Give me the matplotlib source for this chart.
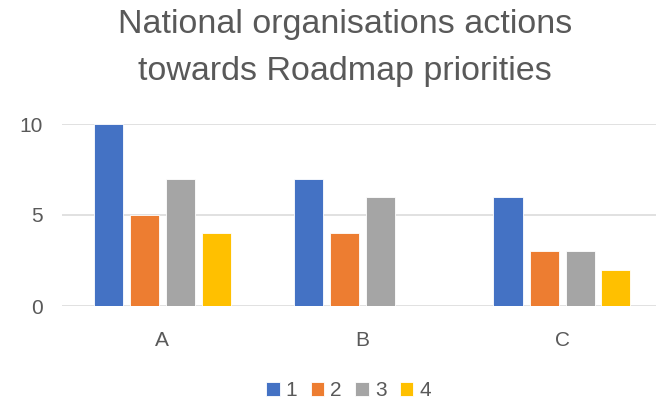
import matplotlib.pyplot as plt
import numpy as np

categories = ['A', 'B', 'C']
series_names = ['1', '2', '3', '4']
s1 = [10, 7, 6]
s2 = [5, 4, 3]
s3 = [7, 6, 3]
s4 = [4, 0, 2]
colors = ['#4472C4', '#ED7D31', '#A5A5A5', '#FFC000']

plt.rcParams['font.family'] = ['Liberation Sans', 'DejaVu Sans']
txt = '#595959'

fig = plt.figure(figsize=(6.56, 4.03), dpi=100)
ax = fig.add_axes([62 / 656, 1 - 306 / 403, 594 / 656, (306 - 124) / 403])

x = np.arange(len(categories))
offsets = [-0.27, -0.09, 0.09, 0.27]
for vals, off, c, name in zip([s1, s2, s3, s4], offsets, colors, series_names):
    ax.bar(x + off, vals, width=0.145, color=c, edgecolor='white', linewidth=0.6,
           label=name, zorder=3)

ax.set_xlim(-0.5, 2.47)
ax.set_ylim(0, 10)
ax.set_yticks([0, 5, 10])
ax.set_xticks(x)
ax.set_xticklabels(categories)
ax.yaxis.grid(True, color='#D9D9D9', linewidth=1.1, zorder=0)
ax.tick_params(length=0, colors=txt, labelsize=15)
ax.tick_params(axis='x', pad=18)
ax.tick_params(axis='y', pad=14)
for s in ax.spines.values():
    s.set_visible(False)

# title is centred on the (wider) chart area, a bit right of the image centre
fig.text(345 / 656, 1 - 33 / 403, 'National organisations actions', ha='center',
         va='baseline', fontsize=24.5, color=txt)
fig.text(345 / 656, 1 - 80 / 403, 'towards Roadmap priorities', ha='center',
         va='baseline', fontsize=24.5, color=txt)

fig.legend(loc='center left', bbox_to_anchor=(256 / 656, 1 - 391 / 403), ncol=4,
           frameon=False, borderpad=0, fontsize=15, handlelength=0.63,
           handleheight=0.63, handletextpad=0.3, columnspacing=0.65, labelcolor=txt)

fig.savefig('out.png', dpi=100)
